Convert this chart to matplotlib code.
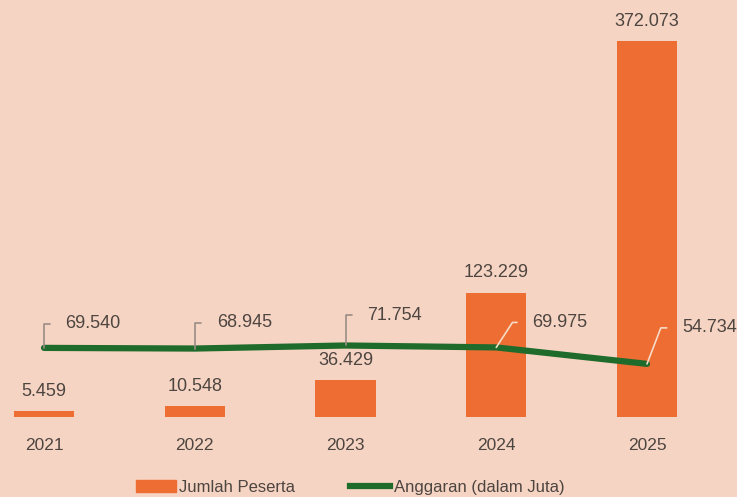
import matplotlib
matplotlib.use("Agg")
import matplotlib.pyplot as plt
import numpy as np
from matplotlib.patches import Patch
from matplotlib.lines import Line2D

years = ["2021", "2022", "2023", "2024", "2025"]
peserta = [5459, 10548, 36429, 123229, 372073]
anggaran = [69540, 68945, 71754, 69975, 54734]
peserta_labels = ["5.459", "10.548", "36.429", "123.229", "372.073"]
anggaran_labels = ["69.540", "68.945", "71.754", "69.975", "54.734"]

bg = "#f6d4c3"
bar_color = "#ee6d33"
line_color = "#1f6b2c"
text_color = "#4d4540"
font = "Liberation Sans"

fig = plt.figure(figsize=(7.37, 4.97), dpi=100, facecolor=bg)
ax = fig.add_axes([0, 0.161, 1, 0.779])
ax.set_facecolor(bg)
x = np.arange(len(years))
ax.bar(x, peserta, width=0.4, color=bar_color, zorder=2)
ax.set_xlim(-0.292, 4.597)
ax.set_ylim(0, 383400)
for s in ax.spines.values():
    s.set_visible(False)
ax.set_yticks([])
ax.set_xticks(x)
ax.set_xticklabels(years, fontsize=12.5, color=text_color, family=font)
ax.tick_params(axis="x", length=0, pad=15)

for xi, v, lab in zip(x, peserta, peserta_labels):
    ax.annotate(lab, (xi, v), xytext=(0, 14.5), textcoords="offset points",
                ha="center", va="center", fontsize=13, color=text_color, family=font)

ax2 = ax.twinx()
ax2.set_ylim(5600, 363900)
ax2.set_yticks([])
for s in ax2.spines.values():
    s.set_visible(False)
ax2.plot(x, anggaran, color=line_color, lw=4.5, solid_capstyle="round", zorder=3)

offsets = [(21, -24), (22, -26), (22, -30), (36, -25), (35, -36)]
angles = [90, 90, 90, 57, 69]
lcolors = ["#9a8d85", "#9a8d85", "#9a8d85", "#f6dcc8", "#f6dcc8"]
for xi, v, lab, (dx, dy), ang, lc in zip(x, anggaran, anggaran_labels, offsets, angles, lcolors):
    ax2.annotate(lab, (xi, v), xytext=(dx * 0.72, -dy * 0.72), textcoords="offset points",
                 ha="left", va="center", fontsize=13, color=text_color, family=font,
                 arrowprops=dict(arrowstyle="-", color=lc, lw=1.2, shrinkA=9, shrinkB=0,
                                 relpos=(0, 0.5),
                                 connectionstyle=f"angle,angleA=180,angleB={ang},rad=0"))

handles = [Patch(color=bar_color), Line2D([0], [0], color=line_color, lw=4.5)]
leg = fig.legend(handles, ["Jumlah Peserta", "Anggaran (dalam Juta)"], loc="center",
                 bbox_to_anchor=(350 / 737, 0.02), ncol=2, frameon=False,
                 handlelength=2.4, handletextpad=0.2, columnspacing=3.3,
                 prop={"family": font, "size": 12})
for t in leg.get_texts():
    t.set_color(text_color)

fig.savefig("out.png", dpi=100, facecolor=bg)
